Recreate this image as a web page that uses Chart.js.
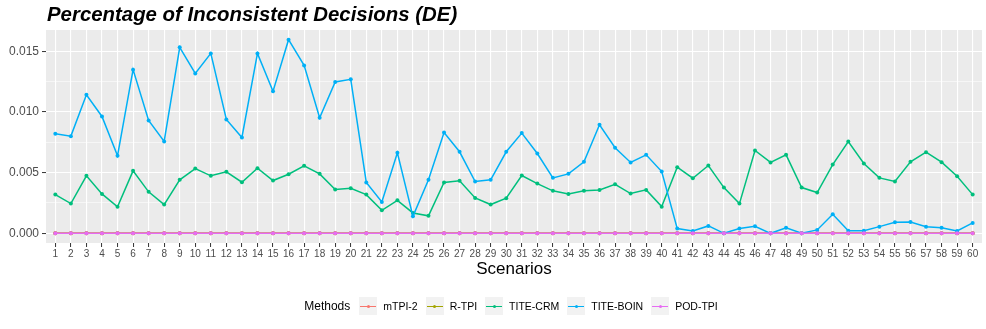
<!DOCTYPE html>
<html>
<head>
<meta charset="utf-8">
<script src="https://cdn.jsdelivr.net/npm/chart.js@4.4.0/dist/chart.umd.min.js"></script>
<style>
  body { margin: 0; background: #fff; font-family: "Liberation Sans", Arial, sans-serif; }
  #wrap { position: relative; width: 986px; height: 329px; }
  #title { position: absolute; left: 47px; top: 4px; font-size: 20.4px; line-height: 20px; font-weight: bold; font-style: italic; color: #000; white-space: nowrap; }
  #legend { position: absolute; left: 46px; width: 938px; top: 297px; height: 18px; display: flex; justify-content: center; align-items: center; }
  #legend .ttl { font-size: 12px; color: #000; margin-right: 9px; }
  #legend .key { position: relative; width: 18px; height: 18px; background: #F2F2F2; margin-right: 6px; }
  #legend .key .ln { position: absolute; left: 1px; right: 1px; top: 8.5px; height: 1.2px; }
  #legend .key .pt { position: absolute; left: 7.5px; top: 7.5px; width: 3px; height: 3px; border-radius: 50%; }
  #legend .lab { font-size: 10.5px; color: #000; margin-right: 8px; }
</style>
</head>
<body>
<div id="wrap">
  <canvas id="chart" width="986" height="329"></canvas>
  <div id="title">Percentage of Inconsistent Decisions (DE)</div>
  <div id="legend"></div>
</div>
<script>
// Data
const scenarios = [1,2,3,4,5,6,7,8,9,10,11,12,13,14,15,16,17,18,19,20,21,22,23,24,25,26,27,28,29,30,
  31,32,33,34,35,36,37,38,39,40,41,42,43,44,45,46,47,48,49,50,51,52,53,54,55,56,57,58,59,60];
const methods = ["mTPI-2", "R-TPI", "TITE-CRM", "TITE-BOIN", "POD-TPI"];
const colors = ["#F8766D", "#A3A500", "#00BF7D", "#00B0F6", "#E76BF3"];

const mtpi2 = [0,0,0,0,0,0,0,0,0,0,0,0,0,0,0,0,0,0,0,0,0,0,0,0,0,0,0,0,0,0,
  0,0,0,0,0,0,0,0,0,0,0,0,0,0,0,0,0,0,0,0,0,0,0,0,0,0,0,0,0,0];
const rtpi = [0,0,0,0,0,0,0,0,0,0,0,0,0,0,0,0,0,0,0,0,0,0,0,0,0,0,0,0,0,0,
  0,0,0,0,0,0,0,0,0,0,0,0,0,0,0,0,0,0,0,0,0,0,0,0,0,0,0,0,0,0];
const titeCrm = [0.00319,0.00245,0.00474,0.00325,0.00218,0.00515,0.00342,0.00237,0.00441,0.00534,
  0.00474,0.00507,0.00421,0.00537,0.00435,0.00487,0.00556,0.00490,0.00361,0.00371,
  0.00319,0.00190,0.00272,0.00168,0.00144,0.00419,0.00433,0.00292,0.00237,0.00289,
  0.00476,0.00410,0.00350,0.00325,0.00350,0.00358,0.00404,0.00328,0.00358,0.00220,
  0.00545,0.00454,0.00559,0.00377,0.00245,0.00683,0.00584,0.00647,0.00377,0.00336,
  0.00567,0.00757,0.00575,0.00457,0.00427,0.00589,0.00669,0.00586,0.00471,0.00319];
const titeBoin = [0.00821,0.00801,0.01142,0.00963,0.00639,0.01349,0.00930,0.00757,0.01533,0.01318,
  0.01483,0.00939,0.00790,0.01483,0.01170,0.01596,0.01384,0.00953,0.01247,0.01269,
  0.00419,0.00259,0.00664,0.00140,0.00441,0.00831,0.00672,0.00427,0.00441,0.00672,
  0.00826,0.00658,0.00457,0.00490,0.00589,0.00895,0.00705,0.00584,0.00647,0.00509,
  0.00039,0.00020,0.00061,0,0.00039,0.00058,0,0.00045,0,0.00028,
  0.00157,0.00022,0.00022,0.00055,0.00091,0.00094,0.00055,0.00045,0.00020,0.00086];
const podTpi = [0,0,0,0,0,0,0,0,0,0,0,0,0,0,0,0,0,0,0,0,0,0,0,0,0,0,0,0,0,0,
  0,0,0,0,0,0,0,0,0,0,0,0,0,0,0,0,0,0,0,0,0,0,0,0,0,0,0,0,0,0];
const series = [mtpi2, rtpi, titeCrm, titeBoin, podTpi];

const yTicks = [0, 0.0025, 0.005, 0.0075, 0.01, 0.0125, 0.015];
const yMajor = [0, 0.005, 0.01, 0.015];

// ggplot-like expansion
const yTop = Math.max(...series.flat());
const yMin = -0.05 * yTop, yMax = yTop * 1.05;

const isMajor = v => yMajor.some(m => Math.abs(m - v) < 1e-9);

// grey panel
const panelBg = {
  id: "panelBg",
  beforeDraw(chart) {
    const a = chart.chartArea, c = chart.ctx;
    c.save();
    c.fillStyle = "#EBEBEB";
    c.fillRect(a.left, a.top, a.right - a.left, a.bottom - a.top);
    c.restore();
  }
};

const font = "'Liberation Sans', Arial, sans-serif";

new Chart(document.getElementById("chart"), {
  type: "line",
  data: {
    datasets: methods.map((m, i) => ({
      label: m,
      data: scenarios.map((s, j) => ({x: s, y: series[i][j]})),
      borderColor: colors[i],
      backgroundColor: colors[i],
      borderWidth: 1.5,
      pointRadius: 2,
      pointBorderWidth: 0,
      tension: 0,
      order: methods.length - i
    }))
  },
  options: {
    responsive: false,
    animation: false,
    events: [],
    layout: { padding: { top: 30, right: 2, bottom: 49, left: 0 } },
    plugins: { legend: { display: false }, tooltip: { enabled: false } },
    scales: {
      x: {
        type: "linear",
        min: 0.4,
        max: 60.6,
        afterBuildTicks: s => { s.ticks = scenarios.map(v => ({value: v})); },
        afterFit: s => { s.height = 37; },
        border: { display: false },
        grid: { color: "#FFFFFF", lineWidth: 1.1, tickColor: "#333333", tickLength: 4, tickWidth: 1 },
        ticks: { autoSkip: false, maxRotation: 0, padding: 1, color: "#4D4D4D", font: { family: font, size: 10 },
          callback: v => String(v) },
        title: { display: true, text: "Scenarios", color: "#000", font: { family: font, size: 17 }, padding: { top: 0, bottom: 0 } }
      },
      y: {
        min: yMin,
        max: yMax,
        afterBuildTicks: s => { s.ticks = yTicks.map(v => ({value: v})); },
        afterFit: s => { s.width = 46; },
        border: { display: false },
        grid: {
          color: "#FFFFFF",
          lineWidth: c => (c.tick && isMajor(c.tick.value)) ? 1.1 : 0.55,
          tickColor: c => (c.tick && isMajor(c.tick.value)) ? "#333333" : "rgba(0,0,0,0)",
          tickLength: 4,
          tickWidth: 1
        },
        ticks: { padding: 3, color: "#4D4D4D", font: { family: font, size: 12 },
          callback: v => isMajor(v) ? v.toFixed(3) : "" }
      }
    }
  },
  plugins: [panelBg]
});

// legend (ggplot style)
const lg = document.getElementById("legend");
lg.innerHTML = '<span class="ttl">Methods</span>' + methods.map((m, i) =>
  '<div class="key"><div class="ln" style="background:' + colors[i] + '"></div>' +
  '<div class="pt" style="background:' + colors[i] + '"></div></div>' +
  '<span class="lab">' + m + '</span>').join("");
</script>
</body>
</html>
